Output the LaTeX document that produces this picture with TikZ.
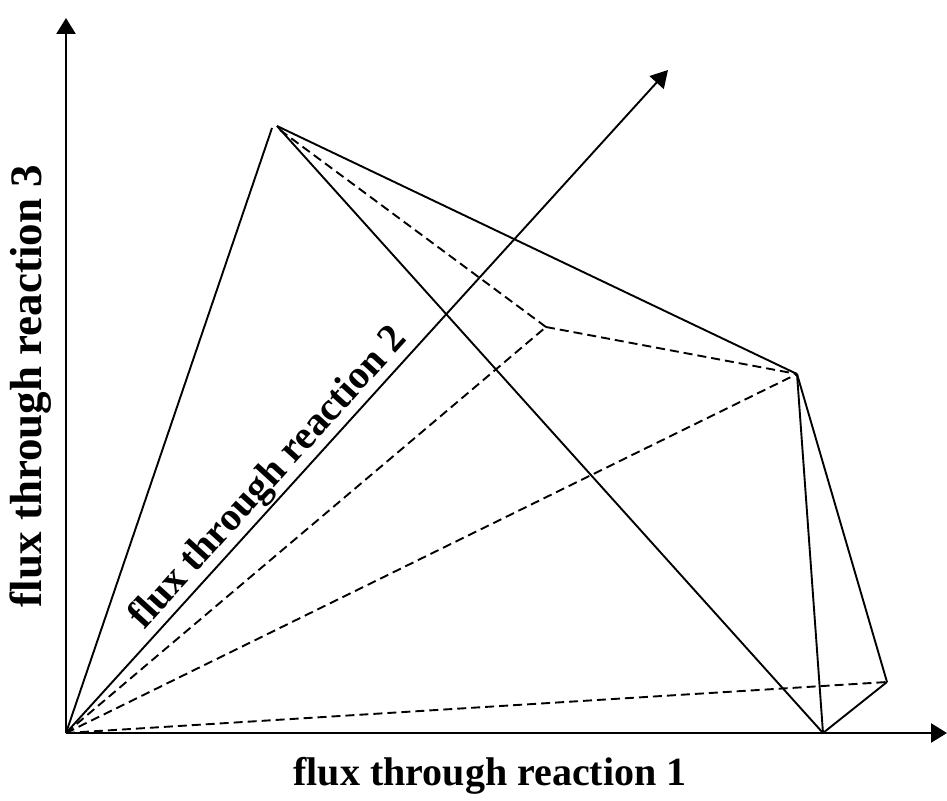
\documentclass[tikz,border=0pt]{standalone}
\usepackage{fontspec}
\setmainfont{Liberation Serif}
\usetikzlibrary{arrows.meta}
\tikzset{
  axisline/.style={line width=2.6pt,-{Triangle[length=16pt,width=19pt]}},
  edge/.style={line width=1.9pt},
  hidden/.style={line width=1.9pt,dash pattern=on 9pt off 5pt},
  lbl/.style={font=\fontsize{40}{44}\selectfont\bfseries,inner sep=2pt},
  biglbl/.style={font=\fontsize{45}{50}\selectfont\bfseries,inner sep=2pt}
}
\begin{document}
\begin{tikzpicture}[x=1pt,y=-1pt]
\useasboundingbox (0,0) rectangle (947,800);
\coordinate (O) at (66,733);
\coordinate (Ytip) at (66,18);
\coordinate (Xtip) at (947,733);
\coordinate (Dtip) at (668,70);
\coordinate (A1) at (272,128);
\coordinate (A) at (277,126);
\coordinate (Ad) at (280,130);
\coordinate (B) at (797,374);
\coordinate (C) at (823,733);
\coordinate (D) at (887,682);
\coordinate (E) at (546,327);
% axes
\draw[axisline] (O) -- (Ytip);
\draw[axisline] (O) -- (Xtip);
\draw[edge,-{Triangle[length=17pt,width=19pt]}] (O) -- (Dtip);
% solid edges
\draw[edge] (O) -- (A1);
\draw[edge] (A) -- (B);
\draw[edge] (A) -- (C);
\draw[edge] (B) -- (C);
\draw[edge] (B) -- (D);
\draw[edge] (C) -- (D);
% hidden edges
\draw[hidden] (Ad) -- (E);
\draw[hidden] (E) -- (B);
\draw[hidden] (O) -- (E);
\draw[hidden] (O) -- (B);
\draw[hidden] (O) -- (D);
% labels
\node[lbl,anchor=base] (l1) at (490,785) {flux through reaction 1};
\node[biglbl,anchor=base,rotate=90] (l3) at (41,386) {flux through reaction 3};
\path (O) -- (Dtip) node[lbl,pos=0.363,sloped,above] (l2) {flux through reaction 2};
\end{tikzpicture}
\end{document}
